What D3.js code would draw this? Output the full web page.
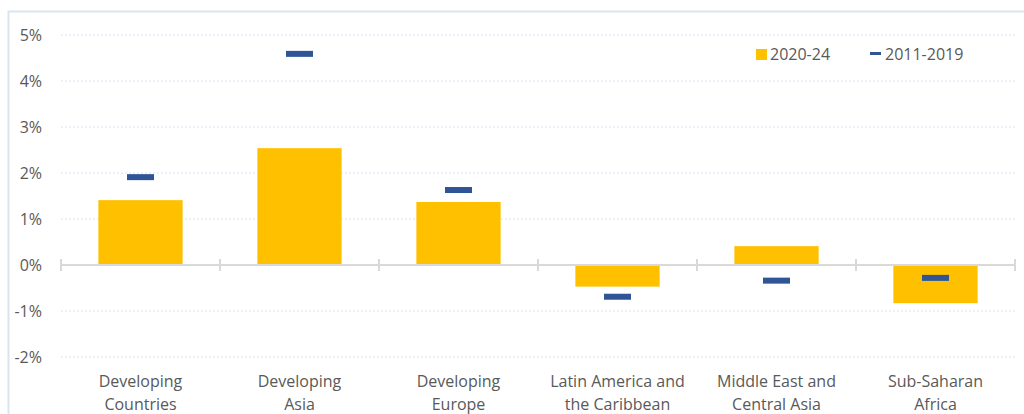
<!DOCTYPE html>
<html><head><meta charset="utf-8">
<script src="https://cdn.jsdelivr.net/npm/d3@7"></script>
<style>body{margin:0;background:#fff}svg{display:block}</style>
</head><body>
<script>
const categories = [["Developing","Countries"],["Developing","Asia"],["Developing","Europe"],["Latin America and","the Caribbean"],["Middle East and","Central Asia"],["Sub-Saharan","Africa"]];
const bars2020 = [1.41, 2.54, 1.37, -0.47, 0.41, -0.83];
const marks2011 = [1.91, 4.59, 1.63, -0.69, -0.34, -0.28];
const yTicks = [-2,-1,0,1,2,3,4,5];
const legendLabels = ["2020-24","2011-2019"];

const W=1024,H=414;
const svg=d3.select("body").append("svg").attr("width",W).attr("height",H);
const font="'Open Sans', 'Liberation Sans', sans-serif";
const fs=16;
svg.append("rect").attr("x",8.5).attr("y",11.5).attr("width",1030).attr("height",420)
  .attr("fill","none").attr("stroke","#dae5f2").attr("stroke-width",2);

const x=d3.scaleBand().domain(d3.range(categories.length)).range([61,1015]).paddingInner(0.47).paddingOuter(0.235);
const y=d3.scaleLinear().domain([-2,5]).range([357,35]);

// gridlines
svg.append("g").selectAll("line").data(yTicks.filter(d=>d!==0)).join("line")
  .attr("x1",61).attr("x2",1015).attr("y1",d=>y(d)).attr("y2",d=>y(d))
  .attr("stroke","#d5e2f3").attr("stroke-width",1).attr("stroke-dasharray","2,2");

// y axis labels
const ya=svg.append("g").attr("transform","translate(45,0)").call(d3.axisLeft(y).tickValues(yTicks).tickFormat(d=>d+"%").tickSize(0));
ya.select(".domain").remove();
ya.selectAll("text").attr("font-family",font).attr("font-size",fs).attr("fill","#595959").attr("dx",0);

// bars
svg.append("g").selectAll("rect").data(bars2020).join("rect")
  .attr("x",(d,i)=>x(i)).attr("width",x.bandwidth())
  .attr("y",d=>y(Math.max(0,d))).attr("height",d=>Math.abs(y(d)-y(0)))
  .attr("fill","#FFC000");

// zero axis
svg.append("line").attr("x1",61).attr("x2",1015).attr("y1",y(0)).attr("y2",y(0)).attr("stroke","#d9d9d9").attr("stroke-width",2);
svg.append("g").selectAll("line").data(d3.range(categories.length+1)).join("line")
  .attr("x1",i=>61+i*(954/categories.length)).attr("x2",i=>61+i*(954/categories.length))
  .attr("y1",y(0)-6).attr("y2",y(0)+6).attr("stroke","#d9d9d9").attr("stroke-width",2);

// markers
const mw=27;
svg.append("g").selectAll("rect").data(marks2011).join("rect")
  .attr("x",(d,i)=>x(i)+x.bandwidth()/2-mw/2).attr("width",mw)
  .attr("y",d=>y(d)-3).attr("height",6).attr("fill","#2F5597");

// category labels
const cl=svg.append("g");
categories.forEach((c,i)=>{
  c.forEach((t,j)=>{
    cl.append("text").attr("x",x(i)+x.bandwidth()/2).attr("y",387+j*23)
      .attr("text-anchor","middle").attr("font-family",font).attr("font-size",fs).attr("fill","#595959").text(t);
  });
});

// legend
const lg=svg.append("g");
lg.append("rect").attr("x",756).attr("y",49).attr("width",11).attr("height",11).attr("fill","#FFC000");
lg.append("text").attr("x",770).attr("y",60).attr("font-family",font).attr("font-size",fs).attr("fill","#595959").text(legendLabels[0]);
lg.append("rect").attr("x",870).attr("y",52).attr("width",11).attr("height",3).attr("fill","#2F5597");
lg.append("text").attr("x",885).attr("y",60).attr("font-family",font).attr("font-size",fs).attr("fill","#595959").text(legendLabels[1]);
</script>
</body></html>
